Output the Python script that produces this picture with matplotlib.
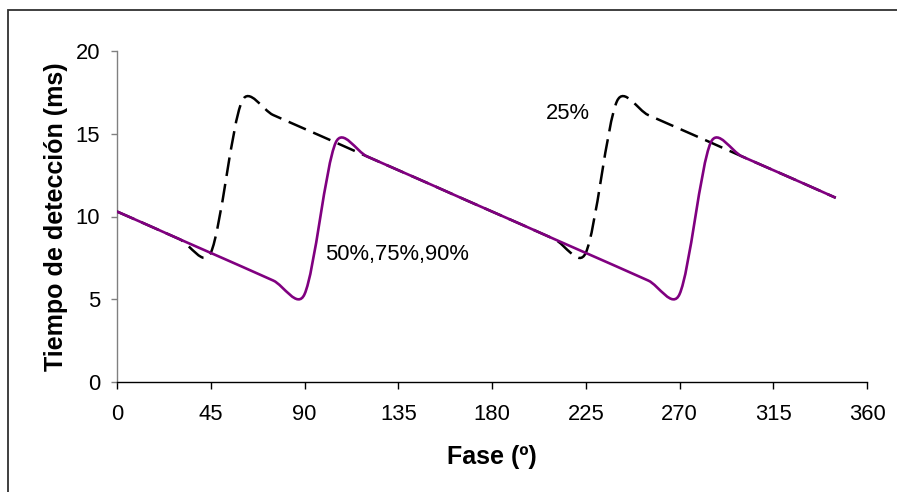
import numpy as np
import matplotlib
matplotlib.use("Agg")
import matplotlib.pyplot as plt
from matplotlib.path import Path
from matplotlib.patches import PathPatch, Rectangle

plt.rcParams['font.family'] = ['Liberation Sans', 'DejaVu Sans']

# ---- data ----
fase = [0, 15, 30, 45, 60, 75, 90, 105, 120, 135, 150, 165,
        180, 195, 210, 225, 240, 255, 270, 285, 300, 315, 330, 345]
serie_50_75_90 = [10.30, 9.47, 8.63, 7.80, 6.97, 6.13, 5.30, 14.47, 13.63, 12.80, 11.97, 11.13,
                  10.30, 9.47, 8.63, 7.80, 6.97, 6.13, 5.30, 14.47, 13.63, 12.80, 11.97, 11.13]
serie_25 = [10.30, 9.47, 8.63, 7.80, 16.97, 16.13, 15.30, 14.47, 13.63, 12.80, 11.97, 11.13,
            10.30, 9.47, 8.63, 7.80, 16.97, 16.13, 15.30, 14.47, 13.63, 12.80, 11.97, 11.13]
xticks = [0, 45, 90, 135, 180, 225, 270, 315, 360]
yticks = [0, 5, 10, 15, 20]

W, H = 897, 492
fig = plt.figure(figsize=(W / 100, H / 100), dpi=100)
ax = fig.add_axes([117 / W, 1 - 382 / H, (867 - 117) / W, (382 - 51) / H])
ax.set_xlim(0, 360)
ax.set_ylim(0, 20)

# outer chart border
fig.patches.append(Rectangle((8 / W, -0.05), 1.2, 1 - 10 / H + 0.05, transform=fig.transFigure,
                             fill=False, edgecolor='#303030', linewidth=1.3))


def smooth_path(xs, ys):
    """Excel-like smoothed line: cubic Bezier with control arms |P(i+1)-P(i-1)|/6,
    capped at half the segment length (computed in display space)."""
    pts = ax.transData.transform(np.column_stack([xs, ys]))
    n = len(pts)
    verts = [pts[0]]
    codes = [Path.MOVETO]
    for i in range(n - 1):
        p0 = pts[i - 1] if i > 0 else pts[i]
        p1 = pts[i]
        p2 = pts[i + 1]
        p3 = pts[i + 2] if i + 2 < n else pts[i + 1]
        d12 = np.hypot(*(p2 - p1))
        t1 = p2 - p0
        t2 = p3 - p1
        l1 = np.hypot(*t1)
        l2 = np.hypot(*t2)
        a1 = min(l1 / 6, d12 / 2)
        a2 = min(l2 / 6, d12 / 2)
        c1 = p1 + (t1 / l1 * a1 if l1 > 0 else 0)
        c2 = p2 - (t2 / l2 * a2 if l2 > 0 else 0)
        verts += [c1, c2, p2]
        codes += [Path.CURVE4] * 3
    verts = ax.transData.inverted().transform(np.array(verts))
    return Path(verts, codes)


ax.add_patch(PathPatch(smooth_path(fase, serie_25), fill=False, edgecolor='black',
                       linewidth=1.8, linestyle=(0, (7.5, 3.2)), capstyle='butt', zorder=3))
ax.add_patch(PathPatch(smooth_path(fase, serie_50_75_90), fill=False, edgecolor='#800080',
                       linewidth=1.9, zorder=4))

ax.text(100, 7.7, '50%,75%,90%', fontsize=15.8, va='center', ha='left')
ax.text(206, 16.2, '25%', fontsize=15.8, va='center', ha='left')

for s in ['top', 'right']:
    ax.spines[s].set_visible(False)
ax.spines['left'].set_color('#808080')
ax.spines['bottom'].set_color('black')
ax.spines['left'].set_linewidth(1.0)
ax.spines['bottom'].set_linewidth(1.0)

ax.set_xticks(xticks)
ax.set_yticks(yticks)
ax.tick_params(axis='x', direction='out', length=5, width=1, color='black', labelsize=15.8, pad=11)
ax.tick_params(axis='y', direction='out', length=4, width=1, color='#808080', labelsize=15.8, pad=8)

ax.set_xlabel('Fase (º)', fontsize=18, fontweight='bold', labelpad=14)
ax.set_ylabel('Tiempo de detección (ms)', fontsize=18, fontweight='bold', labelpad=6)

fig.savefig('out.png', dpi=100)
